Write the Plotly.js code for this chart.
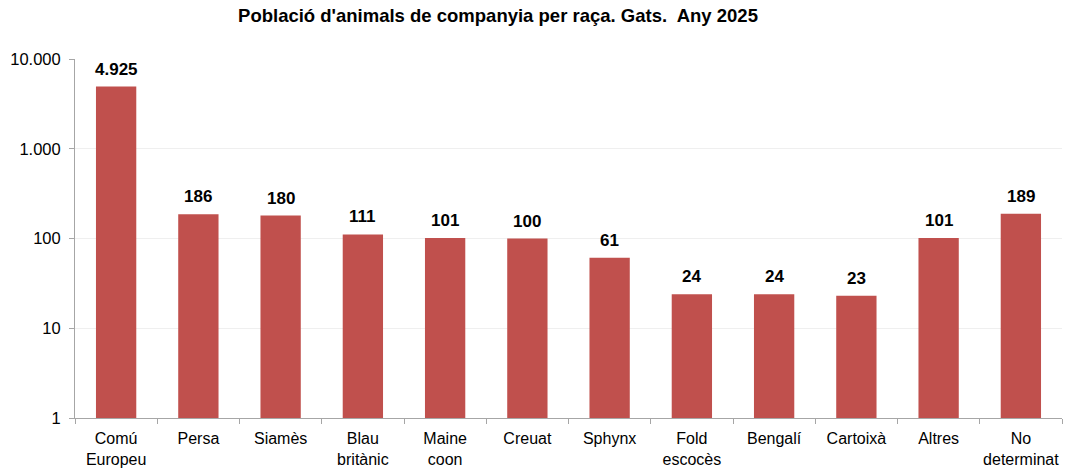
<!DOCTYPE html>
<html>
<head>
<meta charset="utf-8">
<script src="https://cdn.plot.ly/plotly-3.0.1.min.js"></script>
<style>html,body{margin:0;padding:0;background:#fff;}#chart{width:1069px;height:473px;}</style>
</head>
<body>
<div id="chart"></div>
<script>
const categories = ["Comú<br>Europeu", "Persa", "Siamès", "Blau<br>britànic", "Maine<br>coon", "Creuat", "Sphynx", "Fold<br>escocès", "Bengalí", "Cartoixà", "Altres", "No<br>determinat"];
const values = [4925, 186, 180, 111, 101, 100, 61, 24, 24, 23, 101, 189];
const tickValues = [1, 10, 100, 1000, 10000];
const tickLabels = ["1", "10", "100", "1.000", "10.000"];

function fmt(v) {
  return String(v).replace(/\B(?=(\d{3})+(?!\d))/g, ".");
}

const trace = {
  type: "bar",
  x: categories,
  y: values,
  marker: {color: "#C0504D", line: {width: 0}},
  hoverinfo: "x+y"
};

const labels = categories.map((c, i) => ({
  x: c,
  y: Math.log10(values[i]),
  xref: "x", yref: "y",
  text: "<b>" + fmt(values[i]) + "</b>",
  showarrow: false,
  yanchor: "bottom",
  yshift: 6,
  font: {family: "Liberation Sans, Arial, sans-serif", size: 17, color: "#000"}
}));

const layout = {
  width: 1069,
  height: 473,
  separators: ",.",
  margin: {l: 75, r: 7, t: 59, b: 55},
  paper_bgcolor: "#fff",
  plot_bgcolor: "#fff",
  bargap: 0.51,
  showlegend: false,
  font: {family: "Liberation Sans, Arial, sans-serif", size: 17, color: "#000"},
  title: {
    text: "<b>Població d'animals de companyia per raça. Gats.  Any 2025</b>",
    x: 498 / 1069, xref: "container", xanchor: "center",
    y: 1 - 16 / 473, yref: "container", yanchor: "middle",
    font: {family: "Liberation Sans, Arial, sans-serif", size: 18.5, color: "#000"}
  },
  annotations: labels,
  xaxis: {
    type: "category",
    showline: true, linecolor: "#a6a6a6", linewidth: 1,
    ticks: "outside", ticklen: 5, tickcolor: "#a6a6a6",
    tickson: "boundaries",
    tickangle: 0,
    ticklabelstandoff: 6,
    showgrid: false, zeroline: false,
    tickfont: {size: 16, color: "#000"}
  },
  yaxis: {
    type: "log",
    range: [0, 4],
    tickvals: tickValues,
    ticktext: tickLabels,
    showline: true, linecolor: "#a6a6a6", linewidth: 1,
    ticks: "outside", ticklen: 5, tickcolor: "#a6a6a6",
    ticklabelstandoff: 5,
    showgrid: true, gridcolor: "#efefef", gridwidth: 1,
    zeroline: false,
    tickfont: {size: 16.5, color: "#000"}
  }
};

Plotly.newPlot("chart", [trace], layout, {displayModeBar: false, staticPlot: true});
</script>
</body>
</html>
